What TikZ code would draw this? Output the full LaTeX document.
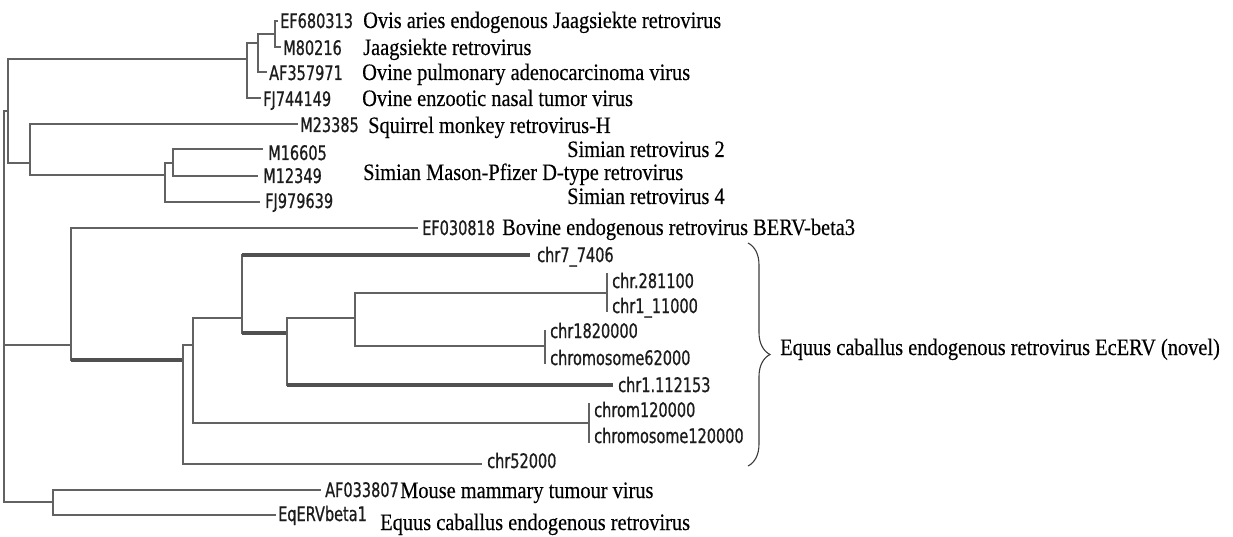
\documentclass[tikz,border=0pt]{standalone}
\usepackage{fontspec}
\usetikzlibrary{decorations.pathreplacing}
\newfontfamily\mydescfam[FakeStretch=0.868,FakeBold=0.3]{Liberation Serif}
\newfontfamily\myaccfam[FakeStretch=0.725,FakeBold=0.7]{DejaVu Sans}
\newcommand\mydescfont{\mydescfam\fontsize{23.5pt}{26pt}\selectfont}
\newcommand\myaccfont{\myaccfam\fontsize{20pt}{22pt}\selectfont}
\definecolor{brcol}{RGB}{98,98,98}
\definecolor{thkcol}{RGB}{80,80,80}
\definecolor{acccol}{RGB}{28,28,28}
\definecolor{bracecol}{RGB}{60,60,60}
\begin{document}
\begin{tikzpicture}[x=1pt,y=-1pt,
  br/.style={draw=brcol, line width=1.7pt, line join=miter},
  thk/.style={draw=thkcol, line width=3.2pt, line cap=butt},
  acc/.style={anchor=base west, inner sep=0pt, font=\myaccfont, text=acccol},
  desc/.style={anchor=base west, inner sep=0pt, font=\mydescfont, text=black},
  bracestyle/.style={draw=bracecol, line width=1.1pt, decorate, decoration={brace, amplitude=22pt}}]
\useasboundingbox (0,0) rectangle (1233,537);
\fill[white] (0,0) rectangle (1233,537);

% internal nodes
\coordinate (R) at (4,345);
\coordinate (A) at (8,111);
\coordinate (C3) at (247,59);
\coordinate (C2) at (258,43);
\coordinate (C1) at (275,34);
\coordinate (S) at (30,163);
\coordinate (P) at (165,175);
\coordinate (Q) at (173,163);
\coordinate (B) at (71,345);
\coordinate (E) at (183,360);
\coordinate (F) at (193,345);
\coordinate (G) at (242,318);
\coordinate (H) at (287,333);
\coordinate (I) at (355,318);
\coordinate (K1) at (607,293);
\coordinate (K3) at (545,346);
\coordinate (K2) at (589,423);
\coordinate (M) at (53,502);

% leaf ends
\coordinate (eEF680313) at (278,21);
\coordinate (eM80216) at (281,47);
\coordinate (eAF357971) at (267,72);
\coordinate (eFJ744149) at (261,98);
\coordinate (eM23385) at (298,124);
\coordinate (eM16605) at (263,149);
\coordinate (eM12349) at (258,176);
\coordinate (eFJ979639) at (260,202);
\coordinate (eEF030818) at (418,228);
\coordinate (echrA) at (530,255);
\coordinate (echrB) at (608,274);
\coordinate (echrC) at (608,311);
\coordinate (echrD) at (546,331);
\coordinate (echrE) at (546,363);
\coordinate (echrF) at (613,385);
\coordinate (echrG) at (590,404);
\coordinate (echrH) at (590,442);
\coordinate (echrI) at (482,464);
\coordinate (eAF033807) at (321,490);
\coordinate (eEqERV) at (276,515);

% branches
\draw[br] (R) |- (A);
\draw[br] (R) |- (B);
\draw[br] (R) |- (M);
\draw[br] (A) |- (C3);
\draw[br] (A) |- (S);
\draw[br] (C3) |- (C2);
\draw[br] (C3) |- (eFJ744149);
\draw[br] (C2) |- (C1);
\draw[br] (C2) |- (eAF357971);
\draw[br] (C1) |- (eEF680313);
\draw[br] (C1) |- (eM80216);
\draw[br] (S) |- (eM23385);
\draw[br] (S) |- (P);
\draw[br] (P) |- (Q);
\draw[br] (P) |- (eFJ979639);
\draw[br] (Q) |- (eM16605);
\draw[br] (Q) |- (eM12349);
\draw[br] (B) |- (eEF030818);
\draw[br] (B) |- (E);
\draw[thk] (B|-E) -- (E);
\draw[br] (E) |- (F);
\draw[br] (E) |- (echrI);
\draw[br] (F) |- (G);
\draw[br] (F) |- (K2);
\draw[br] (G) |- (echrA);
\draw[thk] (G|-echrA) -- (echrA);
\draw[br] (G) |- (H);
\draw[thk] (G|-H) -- (H);
\draw[br] (H) |- (I);
\draw[br] (H) |- (echrF);
\draw[thk] (H|-echrF) -- (echrF);
\draw[br] (I) |- (K1);
\draw[br] (I) |- (K3);
\draw[br] (K1) |- (echrB);
\draw[br] (K1) |- (echrC);
\draw[br] (K3) |- (echrD);
\draw[br] (K3) |- (echrE);
\draw[br] (K2) |- (echrG);
\draw[br] (K2) |- (echrH);
\draw[br] (M) |- (eAF033807);
\draw[br] (M) |- (eEqERV);

% accession labels
\node[acc] (tEF680313) at (280,28) {EF680313};
\node[acc] (tM80216) at (283,55) {M80216};
\node[acc] (tAF357971) at (269,80) {AF357971};
\node[acc] (tFJ744149) at (263,106) {FJ744149};
\node[acc] (tM23385) at (300,132) {M23385};
\node[acc] (tM16605) at (268,160) {M16605};
\node[acc] (tM12349) at (263,183) {M12349};
\node[acc] (tFJ979639) at (265,208) {FJ979639};
\node[acc] (tEF030818) at (422,235) {EF030818};
\node[acc] (tchrA) at (537,262) {chr7\_7406};
\node[acc] (tchrB) at (612,288) {chr.281100};
\node[acc] (tchrC) at (612,313) {chr1\_11000};
\node[acc] (tchrD) at (550,338) {chr1820000};
\node[acc] (tchrE) at (550,365) {chromosome62000};
\node[acc] (tchrF) at (618,392) {chr1.112153};
\node[acc] (tchrG) at (594,417) {chrom120000};
\begin{scope}
\clip (0,0) rectangle (747,537);
\node[acc] (tchrH) at (594,443) {chromosome120000};
\end{scope}
\node[acc] (tchrI) at (487,468) {chr52000};
\node[acc] (tAF033807) at (325,497) {AF033807};
\node[acc] (tEqERV) at (278,521) {EqERVbeta1};

% descriptions
\node[desc] (dOvis) at (363,28) {Ovis aries endogenous Jaagsiekte retrovirus};
\node[desc] (dJaag) at (363,55) {Jaagsiekte retrovirus};
\node[desc] (dOPA) at (362,80) {Ovine pulmonary adenocarcinoma virus};
\node[desc] (dONT) at (362,106) {Ovine enzootic nasal tumor virus};
\node[desc] (dSq) at (368,133) {Squirrel monkey retrovirus-H};
\node[desc] (dSR2) at (567,157) {Simian retrovirus 2};
\node[desc] (dMP) at (363,180) {Simian Mason-Pfizer D-type retrovirus};
\node[desc] (dSR4) at (567,204) {Simian retrovirus 4};
\node[desc] (dBov) at (502,235) {Bovine endogenous retrovirus BERV-beta3};
\node[desc] (dMouse) at (400,498) {Mouse mammary tumour virus};
\node[desc] (dEqb) at (380,530) {Equus caballus endogenous retrovirus};
\node[desc] (dEc) at (780,355) {Equus caballus endogenous retrovirus EcERV (novel)};

% brace
\coordinate (brtop) at (748,243);
\coordinate (brbot) at (748,466);
\draw[bracestyle] (brtop) -- (brbot);
\end{tikzpicture}
\end{document}
